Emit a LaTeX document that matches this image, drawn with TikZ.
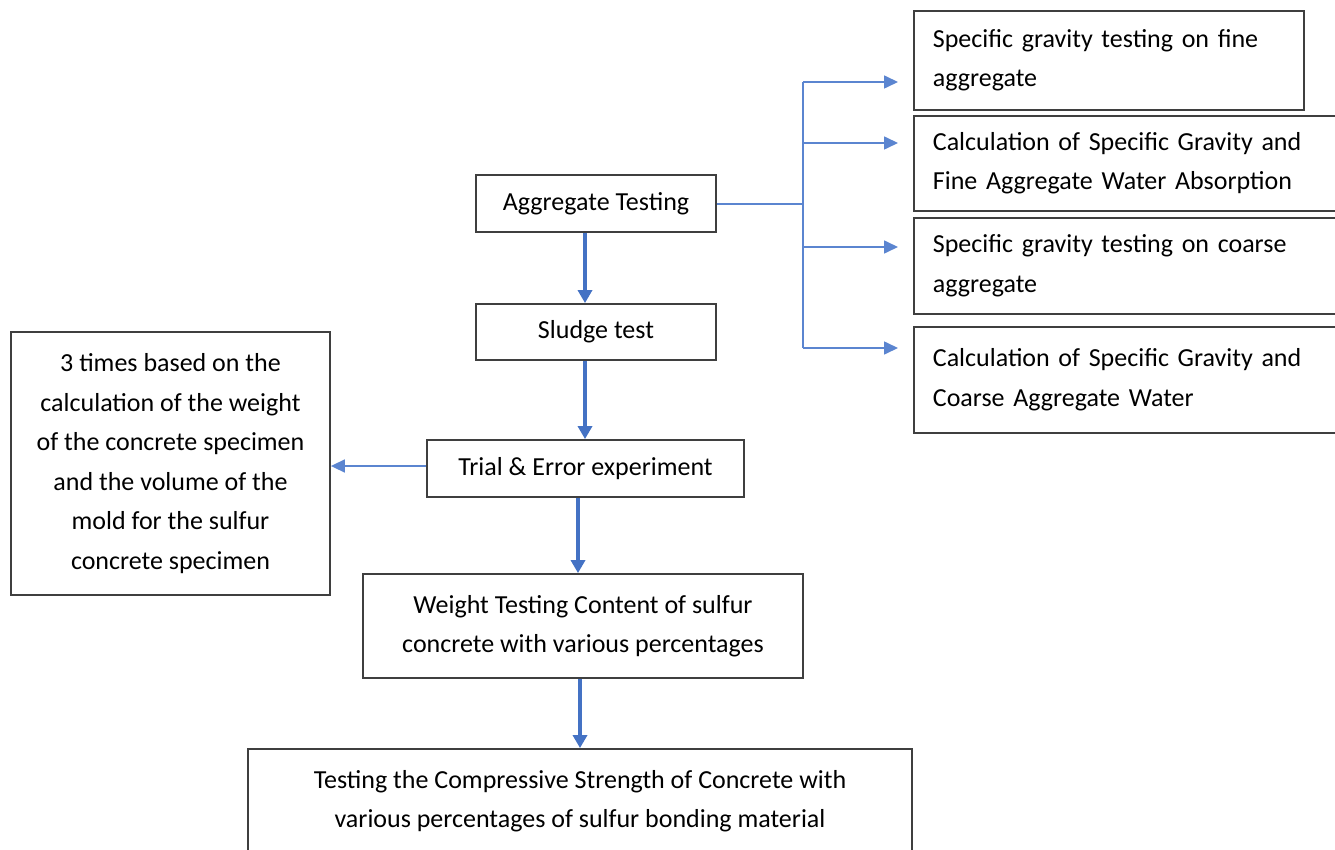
\documentclass[tikz,border=0pt]{standalone}
\usepackage{fontspec}
\setmainfont{Carlito}
\usetikzlibrary{arrows.meta,calc}
\definecolor{boxgray}{HTML}{3F3F3F}
\definecolor{arrblue}{HTML}{4472C4}
\definecolor{thinblue}{HTML}{5B85D0}
\begin{document}
\begin{tikzpicture}[x=1pt,y=-1pt,
  box/.style={draw=boxgray, line width=1.8pt, inner sep=0pt, align=center,
    font=\fontsize{26}{39.5}\selectfont, text=black},
  rbox/.style={box, align=left, inner xsep=19pt, anchor=north west},
  thick arrow/.style={draw=arrblue, line width=4pt, -{Triangle[width=14pt,length=13pt]}},
  thin line/.style={draw=thinblue, line width=1.6pt},
  thin arrow/.style={thin line, -{Triangle[width=13pt,length=14pt]}}]
\useasboundingbox (0,0) rectangle (1335,850);
\clip (0,0) rectangle (1335,850);
\fill[white] (0,0) rectangle (1335,850);

% main column
\node[box, minimum width=240, minimum height=57] (agg) at (596,203.5) {Aggregate Testing};
\node[box, minimum width=240, minimum height=56] (sludge) at (596,332) {Sludge test};
\node[box, minimum width=317, minimum height=57] (trial) at (585.5,468.5) {Trial \& Error experiment};
\node[box, minimum width=440, minimum height=104] (weight) at (583,626) {Weight Testing Content of sulfur\\concrete with various percentages};
\node[box, minimum width=664, minimum height=104] (comp) at (580,801) {Testing the Compressive Strength of Concrete with\\various percentages of sulfur bonding material};

% left box
\node[box, minimum width=319, minimum height=263] (left) at (170.5,463.5) {3 times based on the\\calculation of the weight\\of the concrete specimen\\and the volume of the\\mold for the sulfur\\concrete specimen};

% right boxes
\node[rbox, text width=352, minimum height=99] (r1) at (913,10) {Specific gravity testing on fine\\aggregate};
\node[rbox, text width=384, minimum height=95] (r2) at (913,115) {Calculation of Specific Gravity and\\Fine Aggregate Water Absorption};
\node[rbox, text width=384, minimum height=96] (r3) at (913,217) {Specific gravity testing on coarse\\aggregate};
\node[rbox, text width=384, minimum height=106] (r4) at (913,326) {Calculation of Specific Gravity and\\Coarse Aggregate Water};

% vertical thick arrows
\draw[thick arrow] (agg.south -| 585,0) -- (sludge.north -| 585,0);
\draw[thick arrow] (sludge.south -| 585,0) -- (trial.north -| 585,0);
\draw[thick arrow] (trial.south -| 578,0) -- (weight.north -| 578,0);
\draw[thick arrow] (weight.south -| 580,0) -- (comp.north -| 580,0);

% left arrow
\draw[thin arrow] (trial.west |- 0,466) -- (left.east |- 0,466);

% branch
\coordinate (bx) at (803,204);
\draw[thin line] (agg.east |- bx) -- (bx);
\draw[thin line] (803,82) -- (803,348);
\coordinate (b1) at (803,82);
\coordinate (b2) at (803,143);
\coordinate (b3) at (803,247);
\coordinate (b4) at (803,348);
\draw[thin arrow] (b1) -- ($(r1.west |- b1)+(-15,0)$);
\draw[thin arrow] (b2) -- ($(r2.west |- b2)+(-15,0)$);
\draw[thin arrow] (b3) -- ($(r3.west |- b3)+(-15,0)$);
\draw[thin arrow] (b4) -- ($(r4.west |- b4)+(-15,0)$);
\end{tikzpicture}
\end{document}
